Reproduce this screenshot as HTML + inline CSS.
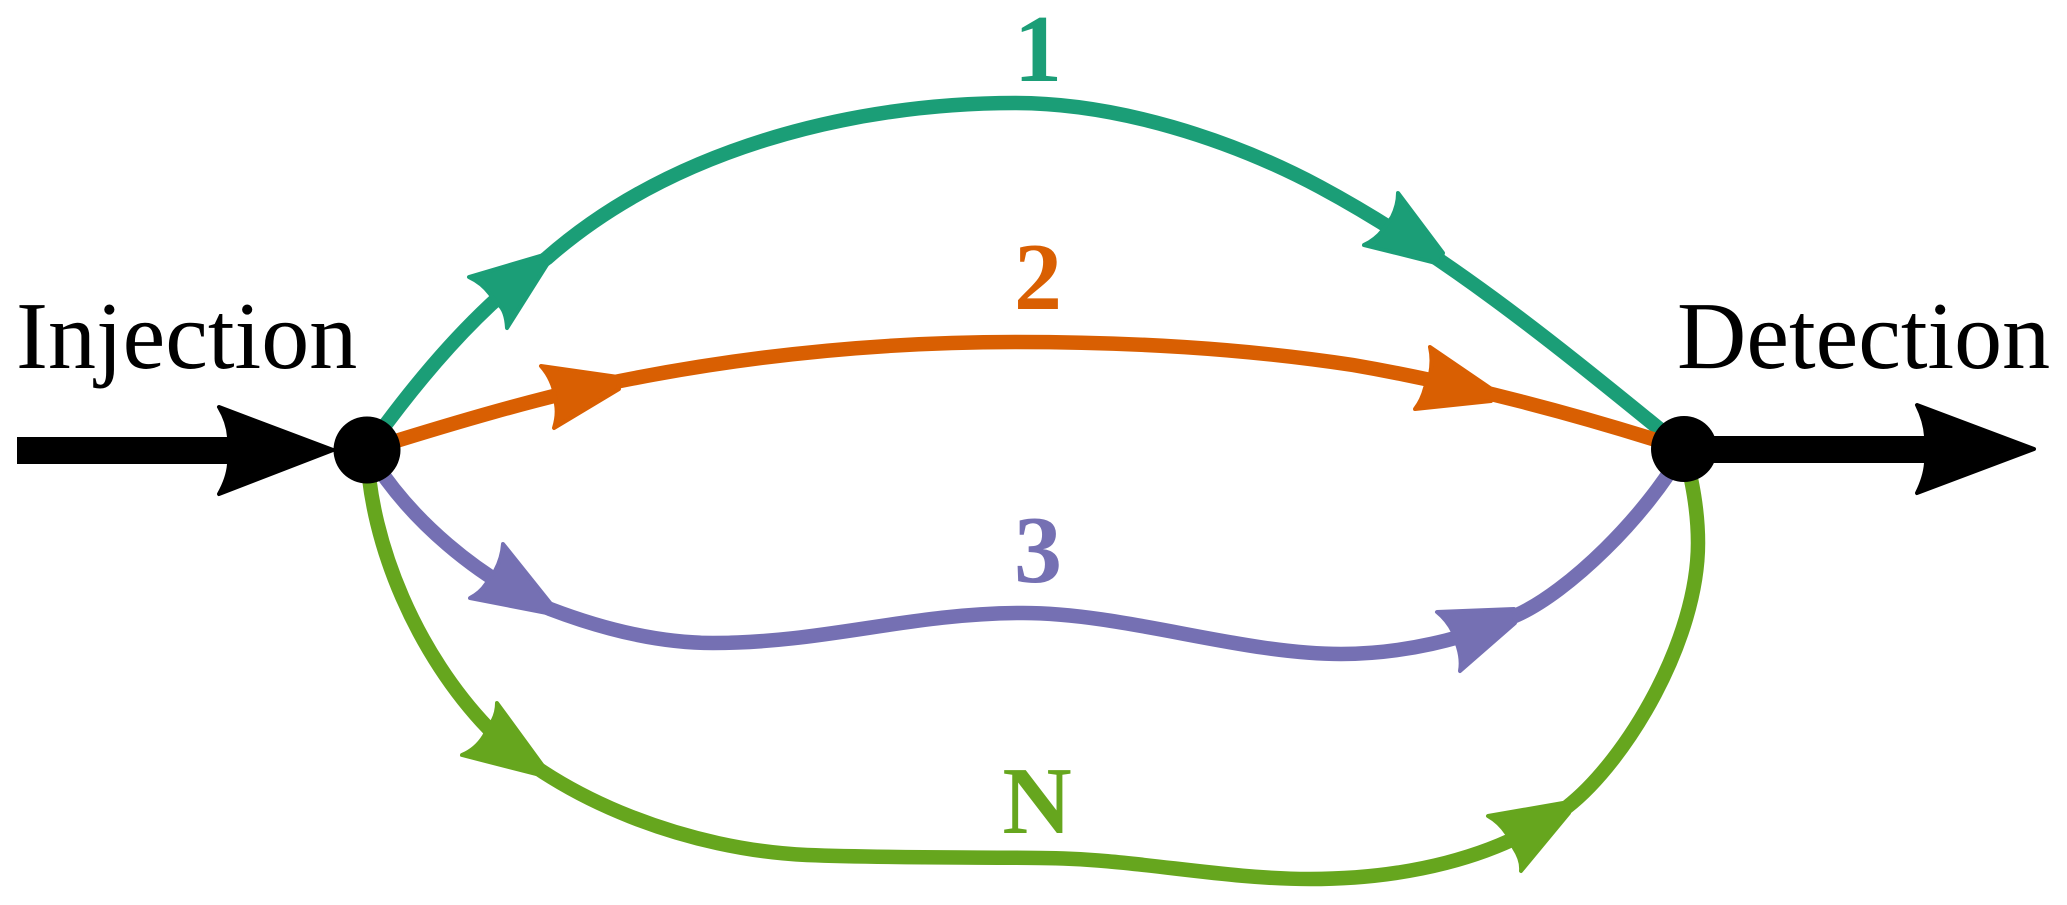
<!DOCTYPE html>
<html><head><meta charset="utf-8"><title>Paths</title>
<style>html,body{margin:0;padding:0;background:#fff}svg{display:block}
text{font-family:"Liberation Serif",serif;text-rendering:geometricPrecision}</style></head>
<body>
<svg xmlns="http://www.w3.org/2000/svg" width="2067" height="905" viewBox="0 0 2067 905">
<rect width="2067" height="905" fill="#fff"/>
<g fill="none" stroke-width="14.5">
<path stroke="#1b9e77" d="M367,450 C417,380 477,308 547,258 C670,150 850,103 1015,103 C1117,103 1230,139 1320,187 C1441,252 1550,340 1657,427 C1666,434 1675,442 1684,449"/>
<path stroke="#d95f02" d="M367,450 C450,424 540,397 620,381 C750,355 880,342 1015,342 C1130,342 1240,348 1353,365 C1463,384 1580,415 1684,449"/>
<path stroke="#7570b3" d="M367,450 C408,520 480,579 550,609 C605,630 660,643 713,643 C825,643 910,613 1023,613 C1125,613 1240,654 1341,654 C1400,654 1465,640 1517,615 C1568,592 1645,518 1684,449"/>
<path stroke="#66a61e" d="M367,450 C370,545 418,655 488,728 C560,800 690,850 807,855 C885,858 960,857 1040,858 C1130,858 1220,879 1310,879 C1400,879 1497,860 1567,807 C1627,760 1698,640 1698,543 C1698,510 1692,480 1684,449"/>
</g>
<g stroke-width="4" stroke-linejoin="round">
<path fill="#1b9e77" stroke="#1b9e77" d="M469,277 L540,256 L548,263 L507,328 Q506,310 498,304 L490,294 Q482,283 469,277Z"/>
<path fill="#1b9e77" stroke="#1b9e77" d="M1398,193 L1443,253 L1440,264 L1364,245 Q1375,240 1383,230 L1392,217 Q1398,205 1398,193Z"/>
<path fill="#d95f02" stroke="#d95f02" d="M541,366 L618,377 L619,389 L554,428 Q558,415 556,404 L554,390 Q550,376 541,366Z"/>
<path fill="#d95f02" stroke="#d95f02" d="M1430,347 L1493,390 L1491,401 L1415,409 Q1422,400 1425,388 L1430,375 Q1433,360 1430,347Z"/>
<path fill="#7570b3" stroke="#7570b3" d="M503,544 L551,604 L547,613 L470,598 Q480,593 486,584 L495,571 Q502,558 503,544Z"/>
<path fill="#7570b3" stroke="#7570b3" d="M1437,612 L1514,609 L1515,623 L1460,671 Q1462,660 1458,647 L1453,632 Q1447,620 1437,612Z"/>
<path fill="#66a61e" stroke="#66a61e" d="M497,703 L543,766 L536,774 L462,755 Q476,749 484,736 L493,720 Q497,712 497,703Z"/>
<path fill="#66a61e" stroke="#66a61e" d="M1488,816 L1563,803 L1569,813 L1521,871 Q1522,860 1514,848 L1507,834 Q1499,822 1488,816Z"/>
<path fill="#000" stroke="#000" d="M219,407 L333,450 L219,494 Q228,478 229,464 L229,437 Q228,422 219,407Z"/>
<path fill="#000" stroke="#000" d="M1917,405 L2034,449 L1917,493 Q1925,477 1926,463 L1926,436 Q1925,421 1917,405Z"/>
</g>
<rect x="17" y="437" width="215" height="27" fill="#000"/>
<rect x="1684" y="436" width="245" height="27" fill="#000"/>
<circle cx="367" cy="450" r="33.5" fill="#000"/>
<circle cx="1684" cy="449" r="33" fill="#000"/>
<g font-size="96">
<text x="16" y="368" fill="#000">Injection</text>
<text x="1677" y="368" fill="#000">Detection</text>
<g font-weight="bold" text-anchor="middle">
<text x="1038" y="81" fill="#1b9e77">1</text>
<text x="1038" y="309" fill="#d95f02">2</text>
<text x="1038" y="582" fill="#7570b3">3</text>
<text x="1037" y="833" fill="#66a61e">N</text>
</g>
</g>
</svg>
</body></html>
